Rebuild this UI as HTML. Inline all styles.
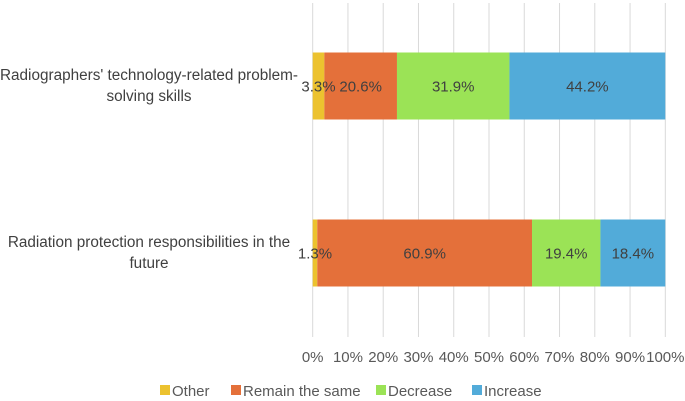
<!DOCTYPE html>
<html><head><meta charset="utf-8"><style>
body{margin:0;background:#fff;}
svg{display:block;font-family:"Liberation Sans",sans-serif;}
</style></head><body>
<svg id="chart" width="685" height="401"></svg>
<script>
const categories=["Radiographers' technology-related problem-|solving skills","Radiation protection responsibilities in the|future"];
const seriesNames=["Other","Remain the same","Decrease","Increase"];
const other=[3.3,1.3];
const remain=[20.6,60.9];
const decrease=[31.9,19.4];
const increase=[44.2,18.4];
const ticks=[0,10,20,30,40,50,60,70,80,90,100];
const colors=["#ecc22f","#e4703a","#9be356","#52abd9"];
const series=[other,remain,decrease,increase];
const svg=document.getElementById('chart');
const NS="http://www.w3.org/2000/svg";
const x0=312.7,x1=665.3;
const xs=v=>x0+(x1-x0)*v/100;
const barY=[52.5,219.5],barH=67;
function mk(t,a,txt){const e=document.createElementNS(NS,t);for(const k in a)e.setAttribute(k,a[k]);if(txt!==undefined)e.textContent=txt;svg.appendChild(e);return e;}
ticks.forEach((t,i)=>{
 const g=mk('line',{x1:xs(t),x2:xs(t),y1:3,y2:337,stroke:'#d9d9d9','stroke-width':1});
 
 
 const l=mk('text',{x:xs(t),y:362,'text-anchor':'middle','font-size':15,fill:'#595959'},t+'%');
 
 
});
const labels=[];
categories.forEach((c,ci)=>{
 let acc=0;
 series.forEach((s,si)=>{
  const v=s[ci];
  const r=mk('rect',{x:xs(acc),y:barY[ci],width:xs(acc+v)-xs(acc),height:barH,fill:colors[si]});
  
  
  labels.push([(xs(acc)+xs(acc+v))/2,barY[ci]+barH/2+5.5,v.toFixed(1)+'%']);
  acc+=v;
 });
 const parts=c.split('|');
 parts.forEach((p,pi)=>{
  const t=mk('text',{x:149,y:barY[ci]+barH/2-6+pi*21,'text-anchor':'middle','font-size':15.3,fill:'#404040'},p);
  
  
 });
});
labels.forEach(l=>{
 const t=mk('text',{x:l[0],y:l[1],'text-anchor':'middle','font-size':15,fill:'#404040'},l[2]);
 
 
});
const legX=[160,231,376,472];
seriesNames.forEach((n,i)=>{
 const r=mk('rect',{x:legX[i],y:385,width:10,height:10,fill:colors[i]});
 
 
 const t=mk('text',{x:legX[i]+12,y:396,'font-size':15,fill:'#595959'},n);
 
 
});
</script>
</body></html>
